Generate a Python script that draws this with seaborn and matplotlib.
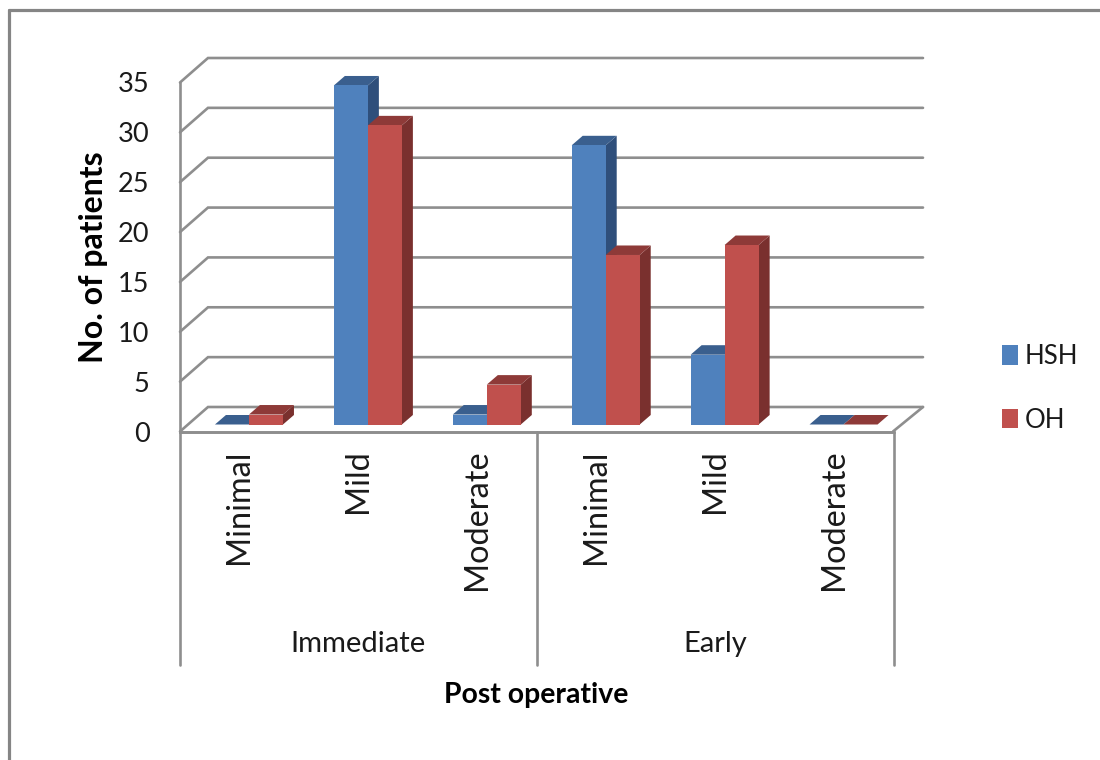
import matplotlib
matplotlib.use("Agg")
import matplotlib.pyplot as plt
from matplotlib.lines import Line2D
from matplotlib.patches import Patch, Polygon
from matplotlib.transforms import blended_transform_factory
import pandas as pd
import seaborn as sns

# ---- data ----
periods = ["Immediate", "Early"]
severity = ["Minimal", "Mild", "Moderate", "Minimal", "Mild", "Moderate"]
category_ids = ["Immediate Minimal", "Immediate Mild", "Immediate Moderate",
                "Early Minimal", "Early Mild", "Early Moderate"]
hsh_values = [0, 34, 1, 28, 7, 0]
oh_values = [1, 30, 4, 17, 18, 0]
y_ticks = [0, 5, 10, 15, 20, 25, 30, 35]
series_names = ["HSH", "OH"]

BLUE, RED = "#4F81BD", "#C0504D"
BLUE_TOP, RED_TOP = "#3A5F8E", "#8E3A38"
BLUE_SIDE, RED_SIDE = "#2F4F7B", "#7A302E"
GRID = "#8E8E8E"
TEXT = "#1a1a1a"

sns.set_theme(style="white")
plt.rcParams["font.family"] = ["Lato", "DejaVu Sans"]

W, H = 1100, 760
fig = plt.figure(figsize=(W / 100, H / 100), dpi=100, facecolor="white")


def px_axes(x0, y_top, x1, y_bottom, **kw):
    return fig.add_axes([x0 / W, 1 - y_bottom / H, (x1 - x0) / W, (y_bottom - y_top) / H], **kw)


# outer frame (top and left only)
for xs, ys in (([9, 1100], [9.5, 9.5]), ([9, 9], [9.5, 760])):
    fig.add_artist(Line2D([x / W for x in xs], [1 - y / H for y in ys], color="#858585", lw=2.3))

# back wall: gridlines and floor edges
wall = px_axes(208, 58, 923, 407)
wall.set_xlim(0, 1)
wall.set_ylim(0, 35)
wall.axis("off")
dx_wall = 28 / 715
dy_wall = 24.5 / (349 / 35)
for v in y_ticks:
    wall.plot([-dx_wall, 0, 1], [v - dy_wall, v, v], color=GRID, lw=1.9, clip_on=False,
              solid_joinstyle="miter")
wall.plot([1, 1 - 30 / 715], [0, -dy_wall], color=GRID, lw=1.9, clip_on=False)
wall.plot([-dx_wall, 1 - 30 / 715], [-dy_wall, -dy_wall], color=GRID, lw=1.9, clip_on=False)

# front axis with tick labels
ax = px_axes(180, 82.5, 893.5, 431.5)
ax.patch.set_alpha(0)
ax.set_xlim(-0.5, 5.5)
ax.set_ylim(0, 35)
sns.despine(ax=ax, top=True, right=True)
for s in ("left", "bottom"):
    ax.spines[s].set_color(GRID)
    ax.spines[s].set_linewidth(1.9)
ax.set_yticks(y_ticks)
ax.tick_params(axis="y", length=7, width=1.9, color=GRID, pad=15, labelsize=19.5, labelcolor=TEXT)
ax.set_xticks(range(6))
ax.set_xticklabels(severity, rotation=90, va="top", ha="center")
ax.tick_params(axis="x", length=0, pad=13, labelsize=23.3, labelcolor=TEXT)
ax.set_ylabel("No. of patients", fontsize=23, fontweight="bold", color="black", va="center")
ax.yaxis.set_label_coords((93 - 180) / 713.5, (431.5 - 257) / 349)
ax.set_xlabel("Post operative", fontsize=20.4, fontweight="bold", color="black")
ax.xaxis.set_label_coords((536 - 180) / 713.5, (431.5 - 695) / 349)
ax.xaxis.label.set_verticalalignment("center")

# multi-level category separators and group labels
trans = blended_transform_factory(ax.transData, ax.transAxes)
for x in (-0.5, 2.5, 5.5):
    ax.plot([x, x], [0, (431.5 - 665) / 349], color=GRID, lw=1.9, clip_on=False, transform=trans)
for centre, name in zip((1, 4), periods):
    ax.text(centre, (431.5 - 644) / 349, name, transform=trans, ha="center", va="center",
            fontsize=21, color=TEXT)

# bars (front faces) through seaborn, offset from the front axis by the chart's depth
bar_ax = px_axes(189.5, 75.5, 903, 424.5)
bar_ax.patch.set_alpha(0)
df = pd.DataFrame({
    "category": category_ids * 2,
    "series": [series_names[0]] * 6 + [series_names[1]] * 6,
    "patients": hsh_values + oh_values,
})
sns.barplot(data=df, x="category", y="patients", hue="series", order=category_ids,
            hue_order=series_names, palette=[BLUE, RED], width=0.572, gap=0, dodge=True,
            saturation=1, legend=False, ax=bar_ax, edgecolor="none", linewidth=0)
bar_ax.set_xlim(-0.5, 5.5)
bar_ax.set_ylim(0, 35)
bar_ax.axis("off")

# depth faces derived from each bar's geometry
ddx = 11 / (713.5 / 6)
ddy = 9.5 / (349 / 35)
bars = sorted(bar_ax.patches, key=lambda p: p.get_x())
for i, bar in enumerate(bars):
    x0, w, h = bar.get_x(), bar.get_width(), bar.get_height()
    is_hsh = i % 2 == 0
    z = 3 + i
    bar.set_zorder(z + 0.2)
    bar.set_clip_on(False)
    bar_ax.add_patch(Polygon(
        [(x0, h), (x0 + ddx, h + ddy), (x0 + w + ddx, h + ddy), (x0 + w, h)], closed=True,
        facecolor=BLUE_TOP if is_hsh else RED_TOP, edgecolor="none", zorder=z + 0.1, clip_on=False))
    bar_ax.add_patch(Polygon(
        [(x0 + w, 0), (x0 + w + ddx, ddy), (x0 + w + ddx, h + ddy), (x0 + w, h)], closed=True,
        facecolor=BLUE_SIDE if is_hsh else RED_SIDE, edgecolor="none", zorder=z, clip_on=False))

# legend
handles = [Patch(facecolor=BLUE, edgecolor="none", label=series_names[0]),
           Patch(facecolor=RED, edgecolor="none", label=series_names[1])]
fig.legend(handles=handles, loc="upper left", bbox_to_anchor=(1002 / W, 1 - 344 / H), frameon=False,
           fontsize=18.5, labelcolor=TEXT, borderpad=0, borderaxespad=0, handlelength=0.62,
           handleheight=0.78, handletextpad=0.27, labelspacing=1.5)

fig.savefig("out.png", dpi=100, facecolor="white")
